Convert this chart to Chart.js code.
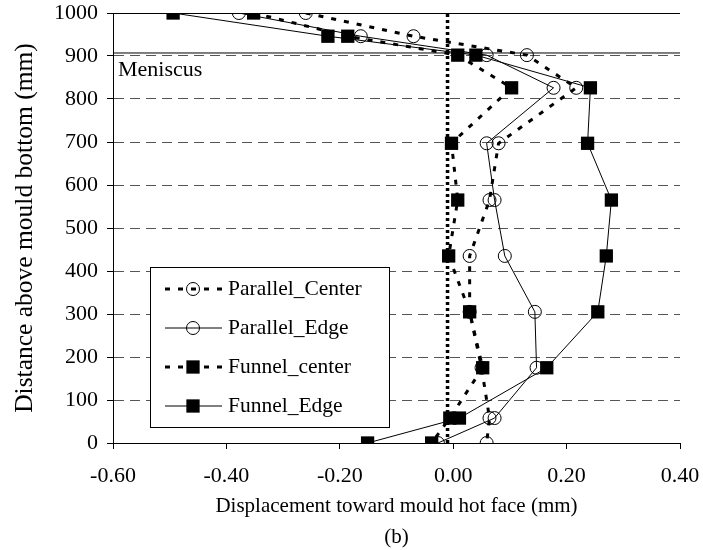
<!DOCTYPE html>
<html>
<head>
<meta charset="utf-8">
<title>Mould displacement</title>
<script src="https://cdn.jsdelivr.net/npm/chart.js@4.4.1/dist/chart.umd.min.js"></script>
<style>
  html, body { margin: 0; padding: 0; background: #fff; }
  canvas { display: block; }
</style>
</head>
<body>
<canvas id="dispChart" width="703" height="550"></canvas>
<script>
// measuring heights above the mould bottom (mm), top to bottom
const heights = [1000, 946, 902, 826, 697, 565, 435, 305, 175, 58, 0];

// displacement toward the hot face (mm) at each height
const parallelCenter = [-0.26, -0.07, 0.13, 0.217, 0.08, 0.064, 0.029, 0.029, 0.05, 0.064, 0.059];
const parallelEdge   = [-0.378, -0.163, 0.059, 0.177, 0.059, 0.073, 0.091, 0.144, 0.147, 0.073, -0.027];
const funnelCenter   = [-0.352, -0.186, 0.008, 0.103, -0.003, 0.008, -0.008, 0.029, 0.052, -0.006, -0.038];
const funnelEdge     = [-0.494, -0.221, 0.040, 0.242, 0.237, 0.279, 0.270, 0.255, 0.165, 0.011, -0.151];

const seriesNames = ['Parallel_Center', 'Parallel_Edge', 'Funnel_center', 'Funnel_Edge'];

// reference lines
const meniscusLevel = 907;
const meniscusLabel = 'Meniscus';
const zeroLineX = -0.01;

const xTicks = [-0.6, -0.4, -0.2, 0, 0.2, 0.4];
const yRange = [0, 1000];

const serif = '"Liberation Serif", "Times New Roman", serif';
Chart.defaults.font.family = serif;
Chart.defaults.color = '#000';

function toPoints(values) {
    return values.map((v, i) => ({ x: v, y: heights[i] }));
}

const dashed = [5, 8];

const datasets = [
    {
        label: seriesNames[0],
        data: toPoints(parallelCenter),
        borderColor: '#000',
        borderWidth: 3,
        borderDash: dashed,
        pointStyle: 'circle',
        pointRadius: 6.5,
        pointBorderWidth: 1,
        pointBorderColor: '#000',
        pointBackgroundColor: 'rgba(0,0,0,0)'
    },
    {
        label: seriesNames[1],
        data: toPoints(parallelEdge),
        borderColor: '#000',
        borderWidth: 1,
        pointStyle: 'circle',
        pointRadius: 6.5,
        pointBorderWidth: 1,
        pointBorderColor: '#000',
        pointBackgroundColor: 'rgba(0,0,0,0)'
    },
    {
        label: seriesNames[2],
        data: toPoints(funnelCenter),
        borderColor: '#000',
        borderWidth: 3,
        borderDash: dashed,
        pointStyle: 'rect',
        pointRadius: 9.4,
        pointBorderWidth: 0,
        pointBackgroundColor: '#000'
    },
    {
        label: seriesNames[3],
        data: toPoints(funnelEdge),
        borderColor: '#000',
        borderWidth: 1,
        pointStyle: 'rect',
        pointRadius: 9.4,
        pointBorderWidth: 0,
        pointBackgroundColor: '#000'
    },
    {
        // thick dotted vertical reference line
        label: 'zero',
        data: [{ x: zeroLineX, y: yRange[0] }, { x: zeroLineX, y: yRange[1] }],
        borderColor: '#000',
        borderWidth: 3.5,
        borderDash: [3, 3],
        pointRadius: 0
    },
    {
        label: 'meniscus',
        data: [{ x: xTicks[0], y: meniscusLevel }, { x: xTicks[xTicks.length - 1], y: meniscusLevel }],
        borderColor: '#000',
        borderWidth: 1,
        pointRadius: 0
    }
];

// boxed legend with line sample + marker, plus the meniscus note
const boxLegend = {
    id: 'boxLegend',
    afterDatasetsDraw(chart) {
        const ctx = chart.ctx;
        const area = chart.chartArea;
        const yScale = chart.scales.y;
        ctx.save();

        ctx.font = '22px ' + serif;
        ctx.fillStyle = '#000';
        ctx.textAlign = 'left';
        ctx.textBaseline = 'middle';
        ctx.fillText(meniscusLabel, area.left + 5, yScale.getPixelForValue(meniscusLevel) + 17);

        const left = 150, top = 267, w = 239, h = 160;
        ctx.fillStyle = '#fff';
        ctx.fillRect(left, top, w, h);
        ctx.strokeStyle = '#000';
        ctx.lineWidth = 1;
        ctx.strokeRect(left + 0.5, top + 0.5, w, h);

        const rowY = [289, 328, 367, 406];
        seriesNames.forEach((name, i) => {
            const ds = chart.data.datasets[i];
            const y = rowY[i];
            ctx.strokeStyle = ds.borderColor;
            ctx.lineWidth = ds.borderWidth;
            ctx.setLineDash(ds.borderDash || []);
            ctx.beginPath();
            ctx.moveTo(165, y);
            ctx.lineTo(222, y);
            ctx.stroke();
            ctx.setLineDash([]);

            ctx.fillStyle = ds.pointBackgroundColor;
            ctx.strokeStyle = ds.pointBorderColor || '#000';
            ctx.lineWidth = ds.pointBorderWidth;
            Chart.helpers.drawPoint(ctx, {
                pointStyle: ds.pointStyle,
                rotation: 0,
                radius: ds.pointRadius,
                borderWidth: ds.pointBorderWidth
            }, 193, y);

            ctx.fillStyle = '#000';
            ctx.font = '21.5px ' + serif;
            ctx.fillText(name, 228, y);
        });
        ctx.restore();
    }
};

// keep tick labels from pushing the plot area inwards
function noEdgePadding(scale) {
    scale.paddingTop = 0;
    scale.paddingBottom = 0;
    scale.paddingLeft = 0;
    scale.paddingRight = 0;
}

new Chart(document.getElementById('dispChart'), {
    type: 'scatter',
    data: { datasets: datasets.map(d => Object.assign({ showLine: true, tension: 0 }, d)) },
    options: {
        responsive: false,
        animation: false,
        layout: { padding: { left: 0, right: 23, top: 13, bottom: 0 } },
        plugins: {
            legend: { display: false },
            tooltip: { enabled: false }
        },
        scales: {
            x: {
                type: 'linear',
                min: xTicks[0],
                max: xTicks[xTicks.length - 1],
                afterBuildTicks: scale => { scale.ticks = xTicks.map(v => ({ value: v })); },
                afterFit: scale => { scale.height = 107; noEdgePadding(scale); },
                ticks: {
                    font: { size: 22 },
                    padding: 14,
                    maxRotation: 0,
                    callback: v => Math.abs(v) < 1e-9 ? '0.00' : Number(v).toFixed(2)
                },
                grid: {
                    drawOnChartArea: false,
                    drawTicks: true,
                    tickLength: 6,
                    tickColor: '#000'
                },
                border: { display: true, color: '#000', width: 1 },
                title: {
                    display: true,
                    text: ['Displacement toward mould hot face (mm)', '(b)'],
                    font: { size: 21, lineHeight: '31px' },
                    padding: { top: 0, bottom: -3 }
                }
            },
            y: {
                type: 'linear',
                min: yRange[0],
                max: yRange[1],
                afterFit: scale => { scale.width = 113; noEdgePadding(scale); },
                ticks: {
                    stepSize: 100,
                    font: { size: 22 },
                    padding: 9,
                    callback: v => String(v)
                },
                grid: {
                    drawTicks: true,
                    tickLength: 6,
                    tickColor: '#000',
                    lineWidth: 1,
                    color: c => (c.tick && c.tick.value === yRange[1]) ? '#000' : '#555'
                },
                border: {
                    display: true,
                    color: '#000',
                    width: 1,
                    dash: c => (c.type === 'tick' && c.tick.value !== yRange[1] && c.tick.value !== yRange[0]) ? [10, 6] : []
                },
                title: {
                    display: true,
                    text: 'Distance above mould bottom (mm)',
                    font: { size: 25.5 },
                    padding: { top: 10, bottom: 0 }
                }
            }
        }
    },
    plugins: [boxLegend]
});
</script>
</body>
</html>
